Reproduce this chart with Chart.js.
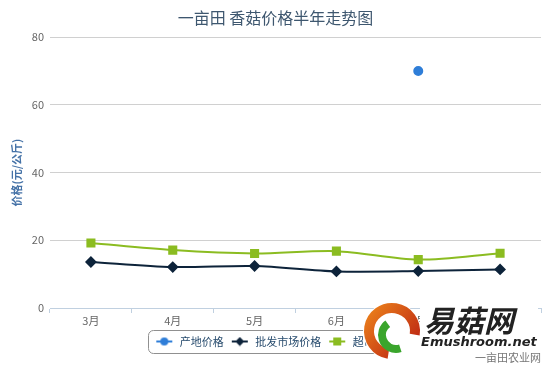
<!DOCTYPE html>
<html>
<head>
<meta charset="utf-8">
<script src="https://cdn.jsdelivr.net/npm/chart.js@4.4.1/dist/chart.umd.min.js"></script>
<style>
  html, body { margin: 0; padding: 0; background: #fff; }
  #wrap { width: 550px; height: 367px; position: relative; }
</style>
</head>
<body>
<div id="wrap"><canvas id="priceChart" width="550" height="367"></canvas></div>
<script>
// data
let months = ['3月', '4月', '5月', '6月', '7月', '8月'];
let originPrice = [null, null, null, null, 70, null];      // 产地价格
let wholesalePrice = [13.6, 12.1, 12.4, 10.8, 10.9, 11.4]; // 批发市场价格
let superPrice = [19.2, 17.1, 16.1, 16.8, 14.3, 16.2];     // 超市价格
let yTicks = [0, 20, 40, 60, 80];

const FONT = "'Noto Sans CJK SC', 'DejaVu Sans', sans-serif";

// legend symbol: short line with the marker in the middle (left 2px kept empty as gap)
function legendSymbol(color, shape) {
    let cv = document.createElement('canvas');
    cv.width = 20; cv.height = 10;
    let c = cv.getContext('2d');
    c.strokeStyle = color; c.fillStyle = color; c.lineWidth = 2;
    c.beginPath(); c.moveTo(2, 5); c.lineTo(18, 5); c.stroke();
    c.beginPath();
    if (shape == 'circle') c.arc(10, 5, 4, 0, Math.PI * 2);
    else if (shape == 'diamond') { c.moveTo(10, 0.5); c.lineTo(14.5, 5); c.lineTo(10, 9.5); c.lineTo(5.5, 5); c.closePath(); }
    else c.rect(6, 1, 8, 8);
    c.fill();
    return cv;
}
let symbols = [legendSymbol('#2f7ed8', 'circle'), legendSymbol('#0d233a', 'diamond'), legendSymbol('#8bbc21', 'rect')];

// box round the legend, like the original
const legendBox = {
    id: 'legendBox',
    afterDraw(chart) {
        let lg = chart.legend;
        if (!lg || !lg.legendHitBoxes.length) return;
        let hb = lg.legendHitBoxes;
        let l = Math.min(...hb.map(h => h.left)) - 6;
        let r = Math.max(...hb.map(h => h.left + h.width)) + 8;
        let t = Math.min(...hb.map(h => h.top)) - 6;
        let b = Math.max(...hb.map(h => h.top + h.height)) + 6;
        let c = chart.ctx;
        c.save();
        c.strokeStyle = '#909090';
        c.lineWidth = 1;
        c.beginPath();
        c.roundRect(Math.round(l) + 0.5, Math.round(t) + 0.5, r - l, b - t, 5);
        c.stroke();
        c.restore();
    }
};

// watermark in the lower right corner
const watermark = {
    id: 'watermark',
    afterDraw(chart) {
        let c = chart.ctx;
        c.save();
        let cx = 392, cy = 331;
        let g1 = c.createLinearGradient(cx - 28, cy - 28, cx + 28, cy + 20);
        g1.addColorStop(0, '#f08a1c');
        g1.addColorStop(1, '#b81d12');
        c.fillStyle = '#fff';
        c.beginPath(); c.arc(cx, cy, 29, 0, Math.PI * 2); c.fill();
        c.strokeStyle = g1;
        c.lineWidth = 10;
        c.beginPath(); c.arc(cx, cy, 23, Math.PI * 0.55, Math.PI * 2.05); c.stroke();
        c.strokeStyle = '#3aa52c';
        c.lineWidth = 8;
        c.beginPath(); c.arc(cx + 4, cy + 4, 14, Math.PI * 0.4, Math.PI * 1.3); c.stroke();
        c.fillStyle = '#fff';
        c.fillRect(420, 300, 118, 50);
        c.fillStyle = '#222';
        c.font = "italic bold 30px " + FONT;
        c.textBaseline = 'alphabetic';
        c.fillText('易菇网', 424, 332);
        c.font = "italic bold 13px 'DejaVu Sans', sans-serif";
        c.fillText('Emushroom.net', 421, 346);
        c.fillStyle = '#777';
        c.font = "11px " + FONT;
        c.textAlign = 'right';
        c.fillText('一亩田农业网', 541, 362);
        c.restore();
    }
};

const ctx = document.getElementById('priceChart');
const chart = new Chart(ctx, {
    type: 'line',
    data: {
        labels: months,
        datasets: [
            {
                label: '产地价格',
                data: originPrice,
                borderColor: '#2f7ed8',
                backgroundColor: '#2f7ed8',
                pointStyle: 'circle',
                pointRadius: 4,
                borderWidth: 2
            },
            {
                label: '批发市场价格',
                data: wholesalePrice,
                borderColor: '#0d233a',
                backgroundColor: '#0d233a',
                pointStyle: 'rectRot',
                pointRadius: 4.5,
                borderWidth: 2,
                tension: 0.3
            },
            {
                label: '超市价格',
                data: superPrice,
                borderColor: '#8bbc21',
                backgroundColor: '#8bbc21',
                pointStyle: 'rect',
                pointRadius: 5,
                borderWidth: 2,
                tension: 0.3
            }
        ]
    },
    options: {
        responsive: false,
        animation: false,
        layout: { padding: { left: 10, right: 9, top: 0, bottom: 10 } },
        scales: {
            x: {
                offset: true,
                grid: {
                    offset: true,
                    drawOnChartArea: false,
                    drawTicks: true,
                    tickLength: 5,
                    color: '#c0d0e0'
                },
                border: { color: '#c0d0e0', width: 1 },
                ticks: { color: '#666', font: { family: FONT, size: 11 }, padding: 1 },
                afterFit(s) { s.height = 22; }
            },
            y: {
                min: 0,
                max: 80,
                afterBuildTicks(s) { s.ticks = yTicks.map(v => ({ value: v })); },
                grid: { color: '#d0d0d0', drawTicks: false },
                border: { display: false },
                ticks: { color: '#666', font: { family: FONT, size: 11 }, padding: 6 },
                title: {
                    display: true,
                    text: '价格(元/公斤)',
                    color: '#4572a7',
                    font: { family: FONT, size: 11, weight: 'bold' },
                    padding: { top: 0, bottom: 4 }
                },
                afterFit(s) { s.width = 40; }
            }
        },
        plugins: {
            title: {
                display: true,
                text: '一亩田 香菇价格半年走势图',
                color: '#3e576f',
                font: { family: FONT, size: 16, weight: 'normal' },
                padding: { top: 8, bottom: 10 }
            },
            legend: {
                position: 'bottom',
                labels: {
                    usePointStyle: true,
                    pointStyleWidth: 20,
                    boxHeight: 10,
                    padding: 6,
                    color: '#274b6d',
                    font: { family: FONT, size: 11 },
                    generateLabels(ch) {
                        let items = Chart.defaults.plugins.legend.labels.generateLabels(ch);
                        items.forEach((it, i) => { it.pointStyle = symbols[i]; });
                        return items;
                    }
                }
            },
            tooltip: { enabled: false }
        }
    },
    plugins: [legendBox, watermark]
});
</script>
</body>
</html>
